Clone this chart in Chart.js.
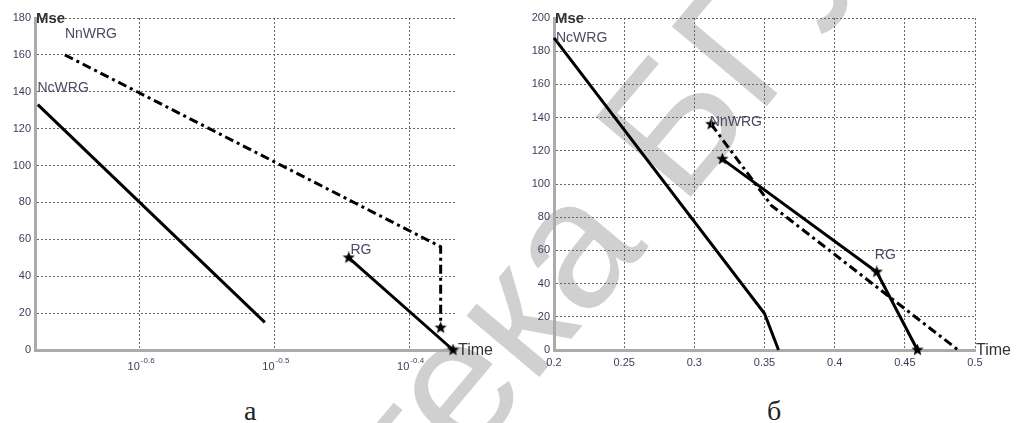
<!DOCTYPE html>
<html>
<head>
<meta charset="utf-8">
<script src="https://cdn.jsdelivr.net/npm/chart.js@4/dist/chart.umd.min.js"></script>
<style>
body { margin: 0; background: #fff; width: 1019px; height: 423px; overflow: hidden; position: relative; font-family: "Liberation Sans", Arial, sans-serif; }
#wm { position: absolute; left: 20px; top: 844px; font-size: 180px; line-height: 1; color: #d0d0d0; white-space: nowrap; transform-origin: 0 152px; transform: rotate(-50deg); }
.box { position: absolute; top: 0; height: 380px; }
#boxA { left: 0; width: 509px; }
#boxB { left: 509px; width: 510px; }
.cap { position: absolute; top: 397px; font-family: "Liberation Serif", serif; font-size: 28px; line-height: 1; color: #222; }
</style>
</head>
<body>
<div id="wm">Библиотека БГУИР</div>
<div class="box" id="boxA"><canvas id="chartA"></canvas></div>
<div class="box" id="boxB"><canvas id="chartB"></canvas></div>
<div class="cap" style="left:244px">а</div>
<div class="cap" style="left:767px">б</div>
<script>
// panel a (log time axis)
var aExp = ['-0.6', '-0.5', '-0.4'];
var aTicks = [Math.pow(10, -0.6), Math.pow(10, -0.5), Math.pow(10, -0.4)];
var aNcWRG_x = [0.211, 0.311];
var aNcWRG_y = [133, 15];
var aNnWRG_x = [0.221, 0.420, 0.420];
var aNnWRG_y = [160, 56, 12];
var aRG_x = [0.359, 0.429];
var aRG_y = [50, 0];

// panel б (linear time axis)
var bNcWRG_x = [0.2, 0.35, 0.36];
var bNcWRG_y = [188, 22, 0];
var bNnWRG_x = [0.312, 0.355, 0.488];
var bNnWRG_y = [136, 87, 0];
var bRG_x = [0.32, 0.43, 0.459];
var bRG_y = [115, 47, 0];

var tickColor = '#3c3c5a';
var labelColor = '#4a4a62';
var gridColor = '#666';

function makeStar(size) {
    var c = document.createElement('canvas');
    c.width = size; c.height = size;
    var g = c.getContext('2d');
    var R = size / 2, r = R * 0.42;
    g.fillStyle = '#000';
    g.beginPath();
    for (var i = 0; i < 10; i++) {
        var a = -Math.PI / 2 + i * Math.PI / 5;
        var rr = i % 2 ? r : R;
        g.lineTo(R + rr * Math.cos(a), R + rr * Math.sin(a));
    }
    g.closePath();
    g.fill();
    return c;
}
var star = makeStar(13);

function pts(xs, ys) {
    return xs.map(function (x, i) { return {x: x, y: ys[i]}; });
}

function series(xs, ys, dashed, starIdx) {
    return {
        data: pts(xs, ys),
        borderColor: '#000',
        borderWidth: 3,
        borderDash: dashed ? [9, 4, 3, 4] : [],
        pointStyle: star,
        pointRadius: xs.map(function (x, i) { return starIdx.indexOf(i) >= 0 ? 6 : 0; }),
        pointHoverRadius: 0,
        tension: 0,
        clip: 8
    };
}

// text labels drawn in data coordinates
var textPlugin = {
    id: 'texts',
    afterDatasetsDraw: function (chart) {
        var ctx = chart.ctx, a = chart.chartArea;
        var sx = chart.scales.x, sy = chart.scales.y;
        var items = chart.options.plugins.texts.items;
        ctx.save();
        ctx.textBaseline = 'middle';
        ctx.textAlign = 'left';
        ctx.fillStyle = '#333';
        ctx.font = 'bold 15px "Liberation Sans", Arial';
        ctx.fillText('Mse', a.left + 1, a.top + 1);
        ctx.font = '16px "Liberation Sans", Arial';
        ctx.fillText('Time', a.right + 1, a.bottom + 1);
        ctx.font = '14px "Liberation Sans", Arial';
        ctx.fillStyle = labelColor;
        items.forEach(function (it) {
            ctx.fillText(it[0], sx.getPixelForValue(it[1]), sy.getPixelForValue(it[2]));
        });
        // power-of-ten tick labels on panel a
        if (chart.options.plugins.texts.pow) {
            aTicks.forEach(function (v, i) {
                var px = sx.getPixelForValue(v);
                ctx.fillStyle = tickColor;
                ctx.textAlign = 'right';
                ctx.textBaseline = 'alphabetic';
                ctx.font = '11px "Liberation Sans", Arial';
                ctx.fillText('10', px, a.bottom + 20);
                ctx.textAlign = 'left';
                ctx.font = '8px "Liberation Sans", Arial';
                ctx.fillText(aExp[i], px + 1, a.bottom + 13);
            });
        }
        ctx.restore();
    }
};

function yAxis(max, w) {
    return {
        min: 0, max: max,
        ticks: {stepSize: 20, color: tickColor, font: {size: 11, family: '"Liberation Sans", Arial'}, padding: 4},
        grid: {color: gridColor, lineWidth: 1, drawTicks: false},
        border: {color: '#aaa', width: 3, dash: [2, 2]},
        afterFit: function (s) { s.width = w; }
    };
}

new Chart(document.getElementById('chartA'), {
    type: 'line',
    data: {
        datasets: [
            series(aNcWRG_x, aNcWRG_y, false, []),
            series(aNnWRG_x, aNnWRG_y, true, [2]),
            series(aRG_x, aRG_y, false, [0, 1])
        ]
    },
    options: {
        responsive: true,
        maintainAspectRatio: false,
        animation: false,
        layout: {padding: {left: 0, right: 52, top: 18, bottom: 0}},
        plugins: {
            legend: {display: false},
            tooltip: {enabled: false},
            texts: {
                pow: true,
                items: [['NnWRG', 0.221, 171], ['NcWRG', 0.2109, 142], ['RG', 0.360, 54]]
            }
        },
        scales: {
            x: {
                type: 'logarithmic',
                min: 0.2109, max: 0.4319,
                afterBuildTicks: function (s) { s.ticks = aTicks.map(function (v) { return {value: v}; }); },
                ticks: {display: false},
                grid: {color: gridColor, lineWidth: 1, drawTicks: false},
                border: {color: '#aaa', width: 3, dash: [2, 2]},
                afterFit: function (s) { s.height = 30; }
            },
            y: yAxis(180, 35)
        }
    },
    plugins: [textPlugin]
});

new Chart(document.getElementById('chartB'), {
    type: 'line',
    data: {
        datasets: [
            series(bNcWRG_x, bNcWRG_y, false, []),
            series(bNnWRG_x, bNnWRG_y, true, [0]),
            series(bRG_x, bRG_y, false, [0, 1, 2])
        ]
    },
    options: {
        responsive: true,
        maintainAspectRatio: false,
        animation: false,
        layout: {padding: {left: 0, right: 44, top: 18, bottom: 0}},
        plugins: {
            legend: {display: false},
            tooltip: {enabled: false},
            texts: {
                pow: false,
                items: [['NcWRG', 0.2014, 188], ['NnWRG', 0.311, 137], ['RG', 0.4286, 57]]
            }
        },
        scales: {
            x: {
                type: 'linear',
                min: 0.2, max: 0.5,
                ticks: {
                    stepSize: 0.05, color: tickColor, font: {size: 11, family: '"Liberation Sans", Arial'}, padding: 6,
                    callback: function (v) { return String(Math.round(v * 100) / 100); }
                },
                grid: {color: gridColor, lineWidth: 1, drawTicks: false},
                border: {color: '#aaa', width: 3, dash: [2, 2]},
                afterFit: function (s) { s.height = 30; }
            },
            y: yAxis(200, 45)
        }
    },
    plugins: [textPlugin]
});
</script>
</body>
</html>
